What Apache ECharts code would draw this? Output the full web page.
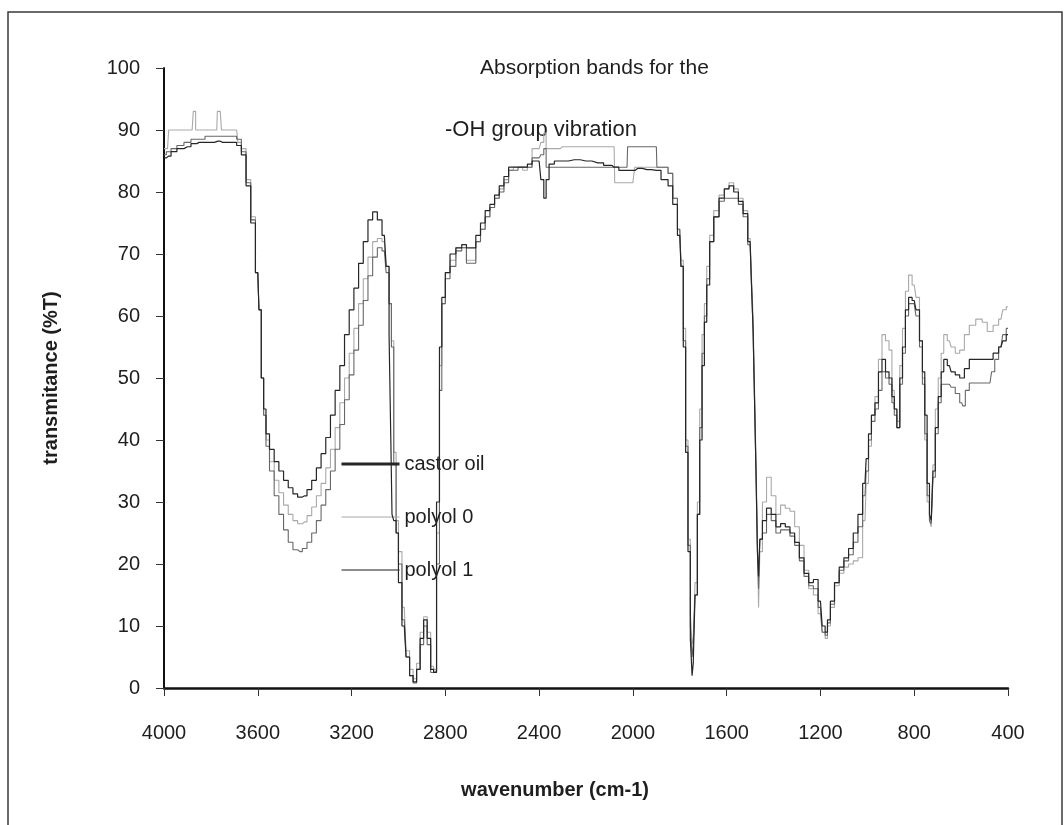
<!DOCTYPE html>
<html>
<head>
<meta charset="utf-8">
<title>IR spectra - castor oil and polyols</title>
<script src="https://cdn.jsdelivr.net/npm/echarts@6/dist/echarts.min.js"></script>
<style>
  html, body { margin: 0; padding: 0; background: #fff; }
  #chart { width: 1064px; height: 825px; }
</style>
</head>
<body>
<div id="chart"></div>
<script>
// ---- data: [wavenumber cm-1, transmittance %T] ----
const seriesNames = ["castor oil", "polyol 0", "polyol 1"];
const xTicks = { min: 400, max: 4000, step: 400 };
const yTicks = { min: 0, max: 100, step: 10 };

const castorOil = [
  [4000,85.5],[3980,85.8],[3960,86.5],[3930,87],[3900,87.3],[3870,87.8],[3850,88],[3800,88],[3770,88.2],[3750,88],
  [3700,88],[3680,87.5],[3660,86],[3640,81],[3620,75],[3600,67],[3590,61],[3580,50],[3570,45],[3560,41],
  [3540,38.5],[3520,36.5],[3500,35],[3480,33.5],[3460,32.3],[3440,31.3],[3420,30.8],[3400,31],[3380,32],[3360,33.5],
  [3340,35.5],[3320,37.8],[3300,40.4],[3280,44],[3260,48],[3240,52],[3220,57],[3200,61],[3180,64.5],[3160,68.5],
  [3140,72],[3120,75.5],[3100,76.8],[3080,75.5],[3060,73],[3045,68],[3035,57],[3030,40],[3025,28],[3015,27],
  [3005,25],[2995,17],[2975,10],[2960,5],[2945,2],[2930,1],[2915,3],[2900,8],[2885,11],[2870,8],
  [2855,3],[2845,2.5],[2830,30],[2820,55],[2810,63],[2790,67],[2770,70],[2740,71],[2720,71.5],[2700,71],
  [2680,71],[2660,73],[2640,75],[2620,77],[2600,78],[2580,79.5],[2560,81],[2540,82.5],[2520,84],[2500,84],
  [2480,84],[2460,84],[2440,84.5],[2420,85],[2400,85],[2385,82],[2375,79],[2365,82],[2350,84.5],[2320,85],
  [2300,85],[2250,85.2],[2200,85],[2150,84.7],[2100,84.3],[2080,84],[2040,83.5],[2000,83.5],[1980,83.8],[1940,83.6],
  [1900,83.5],[1860,82],[1840,81],[1820,78],[1800,73],[1790,68],[1780,55],[1770,38],[1760,22],[1750,8],
  [1745,2],[1740,4],[1730,15],[1720,28],[1710,40],[1700,52],[1690,59],[1680,65],[1665,72],[1645,76],
  [1620,79],[1600,80.5],[1580,81],[1560,80],[1540,78.5],[1520,76.5],[1500,72],[1490,66],[1485,58],[1478,47],
  [1472,35],[1466,22],[1462,18],[1455,24],[1440,27],[1420,29],[1400,28],[1380,26],[1360,26.5],[1340,26],
  [1320,25],[1300,23.5],[1280,21],[1260,18.5],[1240,17],[1220,17.5],[1200,14],[1185,10],[1175,9],[1165,11],
  [1150,14],[1130,17],[1110,19.5],[1090,21],[1070,22.5],[1050,25],[1030,28],[1010,33],[1000,37],[990,41],
  [975,44],[960,46],[945,51],[930,53],[915,51],[900,50],[890,47],[880,45],[868,42],[855,50],
  [845,55],[830,61],[818,63],[800,62.5],[785,61],[770,56],[760,51],[750,44],[740,33],[730,28],
  [725,27],[715,35],[705,42],[690,47],[680,51],[668,53],[650,52],[635,51],[615,50.5],[597,50],
  [575,51.5],[555,53],[520,53],[477,53],[450,54],[430,55],[415,56],[400,57]
];

const polyol0 = [
  [4000,87],[3985,87],[3975,90],[3930,90],[3880,90],[3870,93],[3860,90],[3800,90],[3775,90],[3770,93],
  [3760,93],[3750,90],[3690,90],[3680,88],[3660,87],[3640,82],[3620,76],[3600,67],[3590,61],[3580,50],
  [3570,44],[3560,40],[3540,36.5],[3520,33.5],[3500,31.5],[3480,29.5],[3460,28],[3440,27],[3420,26.5],[3400,26.8],
  [3380,27.8],[3360,29.2],[3340,31],[3320,33],[3300,35.5],[3280,38.5],[3260,42],[3240,46],[3220,50],[3200,54],
  [3180,58],[3160,62],[3140,66],[3120,69.5],[3100,72],[3080,72.5],[3060,72],[3045,68],[3035,62],[3025,56],
  [3015,38],[3005,27],[2995,22],[2975,13],[2960,6],[2945,3],[2930,1.5],[2915,4],[2900,9],[2885,11.5],
  [2870,9],[2855,3.5],[2845,3],[2830,25],[2820,52],[2810,62],[2790,67],[2770,69],[2740,71],[2720,71],
  [2700,69],[2680,69],[2660,72],[2640,74],[2620,76],[2600,77.5],[2580,79],[2560,80.5],[2540,82],[2520,83.5],
  [2500,84],[2480,84],[2460,83.5],[2440,84],[2420,87],[2400,87],[2385,88],[2375,89.5],[2365,87],[2350,87],
  [2320,87],[2300,87.3],[2250,87.3],[2200,87.3],[2150,87.3],[2100,87.3],[2080,87.3],[2075,81.5],[2040,81.5],[2000,81.5],
  [1985,84],[1940,84],[1900,84],[1860,84],[1840,83],[1820,79],[1800,74],[1790,69],[1780,58],[1770,40],
  [1760,24],[1750,12],[1745,7],[1740,8],[1730,17],[1720,30],[1710,45],[1700,57],[1690,62],[1680,68],
  [1665,73],[1645,77],[1620,79.5],[1600,80.5],[1580,81.5],[1560,80.5],[1540,79],[1520,77],[1500,72.5],[1490,67],
  [1485,60],[1478,49],[1472,37],[1466,24],[1462,13],[1455,22],[1440,30],[1420,34],[1400,31],[1380,28],
  [1360,29.5],[1340,29],[1320,28.5],[1300,26],[1280,23],[1260,19],[1240,16],[1220,15],[1200,12],[1185,9],
  [1175,8],[1165,10],[1150,13],[1130,16.5],[1110,18.5],[1090,19.5],[1070,20],[1050,20.5],[1030,21],[1010,27],
  [1000,33],[990,39],[975,44],[960,47],[945,53],[930,57],[915,56],[900,54.5],[890,48],[880,45],
  [868,43],[855,52],[845,58],[830,64],[818,66.6],[800,65],[785,63],[770,56],[760,50],[750,40],
  [740,30],[730,27],[725,26],[715,36],[705,45],[690,50],[680,54],[668,57],[650,56],[635,55],
  [615,54],[597,54.5],[575,57],[555,58.5],[520,59.5],[500,59],[477,57.5],[450,58.5],[430,59.5],[415,61],
  [400,61.5]
];

const polyol1 = [
  [4000,86],[3980,86.5],[3960,87],[3930,87.5],[3900,88],[3870,88.5],[3850,88.5],[3800,89],[3770,89],[3750,89],
  [3700,89],[3680,88.5],[3660,86.5],[3640,81.5],[3620,75.5],[3600,67],[3590,61],[3580,50],[3570,44],[3560,39],
  [3540,35],[3520,31],[3500,28],[3480,25.5],[3460,23.5],[3440,22.3],[3420,22],[3400,22.5],[3380,23.5],[3360,25],
  [3340,27],[3320,29.5],[3300,32],[3280,35],[3260,38.5],[3240,42.5],[3220,46.5],[3200,50.5],[3180,54.5],[3160,58.5],
  [3140,62.5],[3120,66.5],[3100,69.5],[3080,71],[3060,70.5],[3045,67],[3035,62],[3025,55],[3015,36],[3005,25],
  [2995,20],[2975,11],[2960,5],[2945,2],[2930,0.8],[2915,3],[2900,7],[2885,10],[2870,7],[2855,2.5],
  [2845,2.8],[2830,20],[2820,48],[2810,62],[2790,66],[2770,68],[2740,70.5],[2720,71],[2700,68.5],[2680,68.5],
  [2660,72],[2640,74],[2620,76],[2600,77.5],[2580,79],[2560,80],[2540,81.5],[2520,83.5],[2500,83.5],[2480,84],
  [2460,84],[2440,84],[2420,85.5],[2400,85.5],[2385,86],[2375,87],[2365,84],[2350,84],[2320,84],[2300,84],
  [2250,84],[2200,84],[2150,84],[2100,84],[2040,84],[2025,84],[2020,87.3],[2000,87.3],[1980,87.3],[1940,87.3],
  [1900,87.3],[1895,84],[1860,84],[1840,83],[1820,79],[1800,74],[1790,68],[1780,56],[1770,39],[1760,23],
  [1750,10],[1745,5],[1740,7],[1730,15],[1720,28],[1710,42],[1700,54],[1690,60],[1680,66],[1665,72],
  [1645,76],[1620,78.5],[1600,79],[1580,79],[1560,79],[1540,78],[1520,76],[1500,71.5],[1490,66],[1485,58],
  [1478,47],[1472,35],[1466,23],[1462,16],[1455,24],[1440,25],[1420,28],[1400,27],[1380,25],[1360,25.5],
  [1340,25.5],[1320,24.5],[1300,23],[1280,20.5],[1260,18],[1240,16.5],[1220,16],[1200,13],[1185,9],[1175,8.5],
  [1165,10.5],[1150,13.5],[1130,17],[1110,19],[1090,20.5],[1070,21.5],[1050,23.5],[1030,26],[1010,31],[1000,35],
  [990,40],[975,43],[960,45],[945,48],[930,51],[915,50],[900,49],[890,46],[880,44],[868,42],
  [855,49],[845,54],[830,60],[818,62],[800,62],[785,60],[770,55],[760,49],[750,41],[740,31],
  [730,27],[725,26.5],[715,34],[705,41],[690,46],[680,49],[668,49],[650,49],[635,48.5],[615,47.5],
  [597,46],[589,45.5],[575,48],[555,49.2],[520,49.2],[477,49.2],[463,51],[450,53],[430,55],[415,57],
  [400,58]
];

const annotation = ["Absorption bands for the", "-OH group vibration"];

// ---- styling ----
const FONT = '"Liberation Sans", Arial, sans-serif';
const INK = "#1e1e1e";
const LINE = {
  "castor oil": { color: "#262626", width: 1.2, legendWidth: 3 },
  "polyol 0":   { color: "#a9a9a9", width: 1.1, legendWidth: 1.2 },
  "polyol 1":   { color: "#676767", width: 1.1, legendWidth: 1.4 },
};

const chart = echarts.init(document.getElementById("chart"), null, { renderer: "canvas" });

function spectrum(name, data, z) {
  const s = LINE[name];
  return {
    name, type: "line", data, z,
    step: "middle",
    symbol: "none",
    animation: false,
    lineStyle: { color: s.color, width: s.width },
    itemStyle: { color: s.color },
  };
}

chart.setOption({
  backgroundColor: "#fff",
  textStyle: { fontFamily: FONT, color: INK },
  grid: { left: 164, right: 56, top: 68, bottom: 137 },
  legend: {
    orient: "vertical",
    left: 340, top: 453, padding: 0,
    itemWidth: 58, itemHeight: 14, itemGap: 31,
    textStyle: { fontSize: 20, color: INK, fontFamily: FONT, lineHeight: 22 },
    data: seriesNames.map(n => ({
      name: n,
      itemStyle: { color: LINE[n].color, opacity: 0 },
      lineStyle: { color: LINE[n].color, width: LINE[n].legendWidth },
    })),
  },
  xAxis: {
    type: "value", inverse: true,
    min: xTicks.min, max: xTicks.max, interval: xTicks.step,
    name: "wavenumber (cm-1)", nameLocation: "middle", nameGap: 92,
    nameTextStyle: { fontSize: 20, fontWeight: "bold", color: INK, padding: [0, 62, 0, 0] },
    axisLine: { lineStyle: { color: "#111", width: 2.5 } },
    axisTick: { show: true, length: 8, lineStyle: { color: "#333" } },
    axisLabel: { fontSize: 20, color: INK, margin: 35, formatter: v => String(v) },
    splitLine: { show: false },
  },
  yAxis: {
    type: "value",
    min: yTicks.min, max: yTicks.max, interval: yTicks.step,
    name: "transmitance (%T)", nameLocation: "middle", nameGap: 103,
    nameTextStyle: { fontSize: 20, fontWeight: "bold", color: INK },
    axisLine: { show: true, lineStyle: { color: "#111", width: 2 } },
    axisTick: { show: true, length: 8, lineStyle: { color: "#333" } },
    axisLabel: { fontSize: 20, color: INK, margin: 24 },
    splitLine: { show: false },
  },
  graphic: [
    { type: "rect", z: -10, silent: true,
      shape: { x: 8, y: 12, width: 1054, height: 840 },
      style: { fill: "none", stroke: "#3a3a3a", lineWidth: 1.5 } },
    { type: "text", left: 480, top: 58, silent: true,
      style: { text: annotation[0], font: "21px " + FONT, fill: INK } },
    { type: "text", left: 445, top: 119, silent: true,
      style: { text: annotation[1], font: "22px " + FONT, fill: INK } },
  ],
  series: [
    spectrum("polyol 0", polyol0, 2),
    spectrum("polyol 1", polyol1, 3),
    spectrum("castor oil", castorOil, 4),
  ],
});
</script>
</body>
</html>
